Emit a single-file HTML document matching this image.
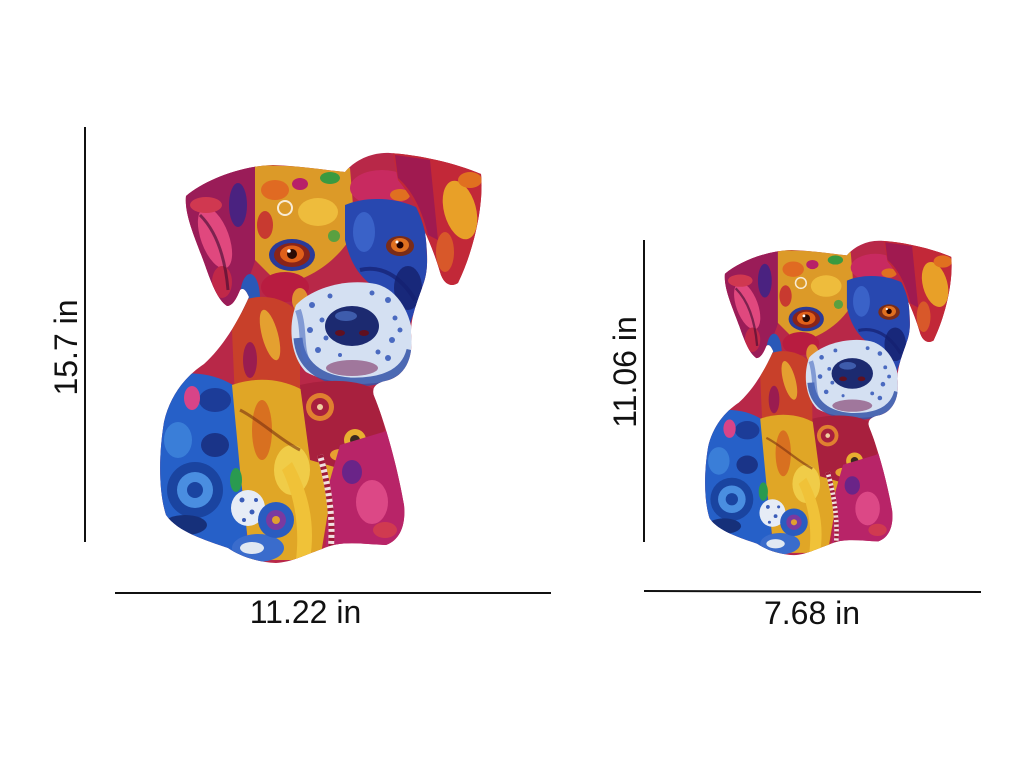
<!DOCTYPE html>
<html>
<head>
<meta charset="utf-8">
<style>
  html,body{margin:0;padding:0;background:#fff;}
  svg{display:block;}
  text{font-family:"Liberation Sans","DejaVu Sans",sans-serif;font-size:32px;fill:#111;}
</style>
</head>
<body>
<svg width="1024" height="768" viewBox="0 0 1024 768" xmlns="http://www.w3.org/2000/svg">
  <rect width="1024" height="768" fill="#fff"/>
  <defs>
    <clipPath id="sil">
      <path d="M186,196 C205,180 240,166 273,165 C300,166 325,170 345,172 C355,160 372,152 390,153 C420,155 455,163 481,174 C484,205 474,250 458,283 C450,288 443,283 440,272 C436,258 430,243 425,232 C428,255 428,270 424,282 C418,300 411,315 411,333 C414,360 404,377 385,381 C376,383 371,388 374,396 C386,425 398,470 404,505 C406,525 400,540 386,545 C362,544 340,540 322,549 C302,556 292,562 276,563 C256,562 240,556 228,548 C205,540 178,532 166,515 C158,490 159,452 164,422 C170,395 186,376 204,364 C222,348 238,322 249,297 C246,290 243,287 240,290 C236,300 232,306 227,306 C218,300 212,285 205,265 C196,240 184,215 186,196 Z"/>
    </clipPath>
    <g id="dog">
      <g clip-path="url(#sil)">
        <rect x="140" y="140" width="360" height="440" fill="#b82848"/>
        <!-- left ear -->
        <path d="M180,190 C210,170 250,160 262,168 L258,250 C252,275 240,300 228,310 L175,310 Z" fill="#9a1c58"/>
        <ellipse cx="215" cy="238" rx="14" ry="32" transform="rotate(-20 215 238)" fill="#e0487e"/>
        <ellipse cx="206" cy="205" rx="16" ry="8" fill="#d03850"/>
        <ellipse cx="238" cy="205" rx="9" ry="22" fill="#4a2280"/>
        <ellipse cx="222" cy="282" rx="10" ry="16" fill="#c02848"/>
        <path d="M200,215 C215,230 225,255 228,290" fill="none" stroke="#3a0a30" stroke-width="3" opacity="0.6"/>
        <!-- forehead -->
        <path d="M255,165 L350,168 L355,230 C340,260 310,280 280,285 L255,260 Z" fill="#dc9a28"/>
        <ellipse cx="318" cy="212" rx="20" ry="14" fill="#eebc3c"/>
        <ellipse cx="275" cy="190" rx="14" ry="10" fill="#e06a22"/>
        <ellipse cx="330" cy="178" rx="10" ry="6" fill="#3a9a40"/>
        <ellipse cx="300" cy="184" rx="8" ry="6" fill="#b82068"/>
        <ellipse cx="265" cy="225" rx="8" ry="14" fill="#c83a30"/>
        <circle cx="285" cy="208" r="7" fill="none" stroke="#fff" stroke-width="2" opacity="0.8"/>
        <circle cx="334" cy="236" r="6" fill="#5aa040"/>
        <!-- left face side -->
        <ellipse cx="250" cy="298" rx="10" ry="24" fill="#2a58b8"/>
        <ellipse cx="262" cy="320" rx="6" ry="12" fill="#3a9a50"/>
        <!-- under eye -->
        <ellipse cx="285" cy="287" rx="24" ry="15" fill="#b81c40"/>
        <ellipse cx="300" cy="300" rx="8" ry="12" fill="#e09030"/>
        <!-- left eye -->
        <ellipse cx="292" cy="255" rx="23" ry="16" fill="#2a3a98"/>
        <ellipse cx="292" cy="255" rx="18" ry="12" fill="#8a2418"/>
        <ellipse cx="292" cy="254" rx="12" ry="8.5" fill="#e0601a"/>
        <circle cx="292" cy="254" r="5" fill="#2a0a05"/>
        <circle cx="289" cy="251" r="1.8" fill="#fff"/>
        <!-- left cheek -->
        <path d="M245,300 C265,292 290,300 300,315 L300,390 L235,400 L232,330 Z" fill="#c8402a"/>
        <ellipse cx="270" cy="335" rx="8" ry="26" transform="rotate(-15 270 335)" fill="#e4a030"/>
        <ellipse cx="250" cy="360" rx="7" ry="18" fill="#9a1c50"/>
        <!-- top band over blue patch -->
        <ellipse cx="382" cy="188" rx="32" ry="18" fill="#c82a60"/>
        <ellipse cx="400" cy="195" rx="10" ry="6" fill="#e07020"/>
        <!-- right blue patch -->
        <path d="M345,205 C365,196 400,196 425,212 L428,280 C420,300 412,315 410,325 L380,290 C360,280 350,262 345,240 Z" fill="#2848b0"/>
        <ellipse cx="408" cy="288" rx="14" ry="22" fill="#18287a"/>
        <ellipse cx="364" cy="232" rx="11" ry="20" fill="#3a62c8"/>
        <path d="M360,270 C380,265 400,275 415,300" fill="none" stroke="#142070" stroke-width="4" opacity="0.7"/>
        <ellipse cx="400" cy="246" rx="14" ry="10" fill="#7a2c18"/>
        <ellipse cx="400" cy="245" rx="9" ry="7" fill="#e07020"/>
        <circle cx="400" cy="245" r="3.5" fill="#200"/>
        <circle cx="397" cy="242" r="1.5" fill="#fff"/>
        <!-- right ear -->
        <path d="M392,150 L490,165 L485,220 L458,290 L438,285 L425,232 C420,210 410,195 398,180 Z" fill="#c22838"/>
        <path d="M395,155 L430,160 L438,240 L428,235 C422,210 412,190 398,178 Z" fill="#a01a50"/>
        <ellipse cx="460" cy="210" rx="16" ry="30" transform="rotate(-15 460 210)" fill="#e8a028"/>
        <ellipse cx="445" cy="252" rx="9" ry="20" fill="#d8582a"/>
        <ellipse cx="470" cy="180" rx="12" ry="8" fill="#e07020"/>
        <!-- muzzle -->
        <path d="M296,305 C312,288 346,278 376,284 C400,290 413,318 413,343 C412,368 398,380 376,383 C350,386 322,381 306,372 C290,356 288,325 296,305 Z" fill="#d4e0f2"/>
        <path d="M298,338 C300,365 320,380 350,382 C380,383 405,375 411,350" fill="none" stroke="#3454a8" stroke-width="9" opacity="0.85"/>
        <path d="M298,310 C305,330 300,350 308,362" fill="none" stroke="#4a6ac0" stroke-width="6" opacity="0.6"/>
        <g fill="#4a6ac0">
          <circle cx="312" cy="305" r="3"/><circle cx="322" cy="320" r="2.5"/><circle cx="310" cy="330" r="3"/>
          <circle cx="388" cy="300" r="3"/><circle cx="395" cy="318" r="2.5"/><circle cx="392" cy="340" r="3"/>
          <circle cx="330" cy="296" r="2.5"/><circle cx="372" cy="293" r="2.5"/><circle cx="318" cy="350" r="3"/>
          <circle cx="388" cy="358" r="3"/><circle cx="400" cy="330" r="2.5"/><circle cx="326" cy="338" r="2.5"/>
          <circle cx="378" cy="352" r="2.5"/><circle cx="340" cy="355" r="2"/>
        </g>
        <ellipse cx="352" cy="368" rx="26" ry="8" fill="#8a4a78" opacity="0.7"/>
        <!-- nose -->
        <ellipse cx="352" cy="326" rx="27" ry="20" fill="#1c2a70"/>
        <ellipse cx="346" cy="316" rx="11" ry="5" fill="#3e5cac"/>
        <ellipse cx="340" cy="333" rx="5" ry="3" fill="#601020"/>
        <ellipse cx="364" cy="333" rx="5" ry="3" fill="#601020"/>
        <!-- left body blue -->
        <path d="M150,380 C180,370 215,370 240,390 L250,470 L245,570 L150,570 Z" fill="#2660c8"/>
        <ellipse cx="215" cy="400" rx="16" ry="12" fill="#1c3c98"/>
        <ellipse cx="192" cy="398" rx="8" ry="12" fill="#d84488"/>
        <ellipse cx="178" cy="440" rx="14" ry="18" fill="#3a7ed8"/>
        <ellipse cx="215" cy="445" rx="14" ry="12" fill="#1a3488"/>
        <circle cx="195" cy="490" r="28" fill="#1a44a0"/>
        <circle cx="195" cy="490" r="18" fill="#4a8ee0"/>
        <circle cx="195" cy="490" r="8" fill="#1a44a0"/>
        <ellipse cx="185" cy="525" rx="22" ry="10" fill="#16307a"/>
        <!-- body center gold -->
        <path d="M232,385 C260,375 290,380 310,395 L335,470 L320,560 L250,560 L240,470 Z" fill="#e0a626"/>
        <ellipse cx="262" cy="430" rx="10" ry="30" fill="#d87020"/>
        <ellipse cx="292" cy="470" rx="18" ry="25" fill="#f0cc48"/>
        <path d="M240,410 C260,420 280,440 300,450" fill="none" stroke="#7a3010" stroke-width="3" opacity="0.6"/>
        <ellipse cx="236" cy="480" rx="6" ry="12" fill="#2a9a50"/>
        <!-- chest red -->
        <path d="M300,385 C330,378 360,380 375,390 L385,430 L345,470 L310,460 Z" fill="#a8203e"/>
        <circle cx="320" cy="407" r="14" fill="#e08030"/>
        <circle cx="320" cy="407" r="9" fill="#a8203e"/>
        <circle cx="320" cy="407" r="3" fill="#f0d0a0"/>
        <circle cx="355" cy="440" r="11" fill="#e8b030"/>
        <circle cx="355" cy="440" r="5" fill="#3a2a20"/>
        <ellipse cx="340" cy="455" rx="10" ry="6" fill="#e8a030"/>
        <!-- body right magenta -->
        <path d="M340,445 L390,430 L410,500 L405,550 L325,555 L330,480 Z" fill="#b82468"/>
        <ellipse cx="372" cy="502" rx="16" ry="22" fill="#dc4886"/>
        <ellipse cx="352" cy="472" rx="10" ry="12" fill="#6a2488"/>
        <ellipse cx="385" cy="530" rx="12" ry="8" fill="#d03a50"/>
        <!-- gold stripe / tail -->
        <path d="M292,462 C308,492 316,522 310,560 L296,560 C300,525 294,495 282,470 Z" fill="#f0c238"/>
        <path d="M320,455 C330,490 334,525 330,558" fill="none" stroke="#f0e0e0" stroke-width="6"/>
        <path d="M320,455 C330,490 334,525 330,558" fill="none" stroke="#a01a38" stroke-width="6" stroke-dasharray="3 3"/>
        <!-- bottom curl -->
        <ellipse cx="258" cy="548" rx="26" ry="14" fill="#3a6ccc"/>
        <ellipse cx="248" cy="508" rx="17" ry="18" fill="#e6ecf6"/>
        <g fill="#3a5cb8"><circle cx="242" cy="500" r="2.5"/><circle cx="252" cy="512" r="2.5"/><circle cx="244" cy="520" r="2"/><circle cx="256" cy="500" r="2"/></g>
        <circle cx="276" cy="520" r="18" fill="#2a5cc0"/>
        <circle cx="276" cy="520" r="10" fill="#7a3aa0"/>
        <circle cx="276" cy="520" r="4" fill="#e0a030"/>
        <ellipse cx="252" cy="548" rx="12" ry="6" fill="#e0e8f2"/>
      </g>
    </g>
  </defs>

  <!-- large dog -->
  <use href="#dog"/>
  <!-- small dog -->
  <g transform="translate(705,240) scale(0.767) translate(-160,-152)">
    <use href="#dog"/>
  </g>

  <!-- dimension lines -->
  <g stroke="#111" stroke-width="2">
    <line x1="85" y1="127" x2="85" y2="542"/>
    <line x1="115" y1="593" x2="551" y2="593"/>
    <line x1="644" y1="240" x2="644" y2="542"/>
    <line x1="644" y1="591" x2="981" y2="592"/>
  </g>

  <!-- labels -->
  <text x="305.5" y="623" text-anchor="middle">11.22 in</text>
  <text x="812" y="624" text-anchor="middle">7.68 in</text>
  <text transform="translate(77,347.5) rotate(-90)" text-anchor="middle">15.7 in</text>
  <text transform="translate(636,372) rotate(-90)" text-anchor="middle">11.06 in</text>
</svg>
</body>
</html>
